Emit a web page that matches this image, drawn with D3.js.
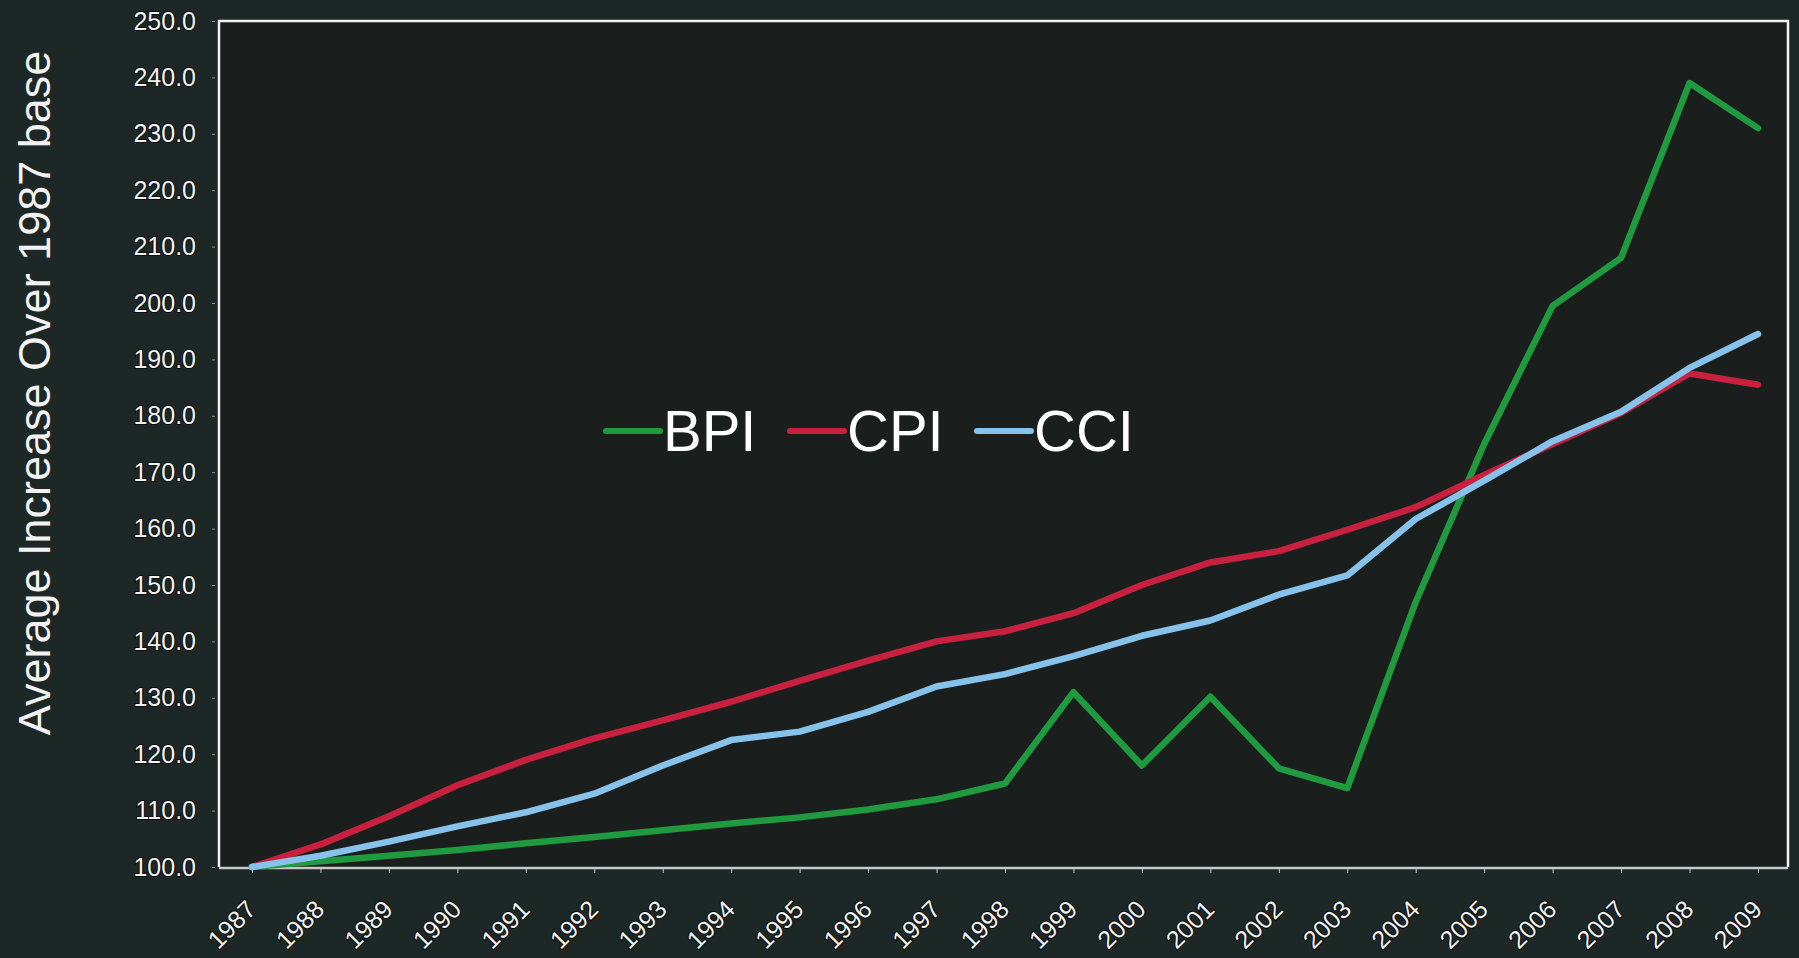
<!DOCTYPE html>
<html>
<head>
<meta charset="utf-8">
<script src="https://cdn.jsdelivr.net/npm/d3@7"></script>
<style>
  html, body { margin: 0; padding: 0; background: #1d2725; }
  svg { display: block; font-family: "Liberation Sans", Arial, sans-serif; }
  .tick-label { fill: #f2f2f2; }
</style>
</head>
<body>
<div id="chart"></div>
<script>
const years = ['1987','1988','1989','1990','1991','1992','1993','1994','1995','1996','1997',
  '1998','1999','2000','2001','2002','2003','2004','2005','2006','2007','2008','2009'];

const bpi = [100.0, 101.0, 102.0, 103.0, 104.2, 105.3, 106.5, 107.7, 108.8, 110.2, 112.0,
  114.8, 131.0, 118.0, 130.2, 117.5, 114.0, 147.0, 175.0, 199.5, 208.0, 239.0, 231.0];
const cpi = [100.0, 104.0, 109.0, 114.5, 119.0, 122.8, 126.0, 129.3, 133.0, 136.6, 140.0,
  141.8, 145.0, 150.0, 154.0, 156.0, 159.8, 163.8, 169.5, 175.0, 180.5, 187.5, 185.5];
const cci = [100.0, 102.0, 104.5, 107.2, 109.7, 113.0, 118.0, 122.5, 124.0, 127.5, 132.0,
  134.2, 137.4, 141.0, 143.7, 148.3, 151.7, 161.7, 168.5, 175.5, 180.7, 188.5, 194.5];

const yTicks = [100, 110, 120, 130, 140, 150, 160, 170, 180, 190, 200, 210, 220, 230, 240, 250];

const series = [
  { name: 'BPI', values: bpi, color: '#1f9a3e' },
  { name: 'CPI', values: cpi, color: '#c7213f' },
  { name: 'CCI', values: cci, color: '#86c2ea' }
];

const W = 1799, H = 958;
const plot = { left: 219, top: 21, right: 1788, bottom: 867 };

const svg = d3.select('#chart').append('svg')
  .attr('width', W).attr('height', H);

svg.append('rect').attr('width', W).attr('height', H).attr('fill', '#1d2725');

// plot background
svg.append('rect')
  .attr('x', plot.left).attr('y', plot.top)
  .attr('width', plot.right - plot.left).attr('height', plot.bottom - plot.top)
  .attr('fill', '#1a1f1e');

const x = d3.scalePoint().domain(years).range([252, 1758]);
const y = d3.scaleLinear().domain([100, 250]).range([plot.bottom, plot.top]);

// frame (white top/left/right)
svg.append('path')
  .attr('d', `M${plot.left},${plot.bottom} V${plot.top} H${plot.right} V${plot.bottom}`)
  .attr('fill', 'none').attr('stroke', '#f4f4f4').attr('stroke-width', 2.5);

// y axis
const yAxis = d3.axisLeft(y).tickValues(yTicks).tickFormat(d3.format('.1f')).tickSize(3).tickPadding(16);
const yg = svg.append('g').attr('transform', `translate(${plot.left - 4},0)`).call(yAxis);
yg.select('.domain').remove();
yg.selectAll('.tick line').attr('stroke', '#8a8f8d');
yg.selectAll('.tick text')
  .attr('class', 'tick-label')
  .attr('font-size', 25)
  .style('paint-order', 'stroke').attr('stroke', '#0b0f0e').attr('stroke-width', 2);

// x axis
const xAxis = d3.axisBottom(x).tickSize(5).tickSizeOuter(0);
const xg = svg.append('g').attr('transform', `translate(0,${plot.bottom + 1})`).call(xAxis);
xg.select('.domain').attr('d', `M${plot.left},0H${plot.right}`).attr('stroke', '#c8c8c8').attr('stroke-width', 2.5);
xg.selectAll('.tick line').attr('stroke', '#c8c8c8');
xg.selectAll('.tick text')
  .attr('class', 'tick-label')
  .attr('font-size', 25)
  .attr('text-anchor', 'end')
  .attr('dy', null)
  .attr('transform', 'translate(5,43) rotate(-45)')
  .attr('y', 0).attr('x', 0)
  .style('paint-order', 'stroke').attr('stroke', '#0b0f0e').attr('stroke-width', 2);

// y title
svg.append('text')
  .attr('transform', 'translate(34,393) rotate(-90)')
  .attr('text-anchor', 'middle')
  .attr('dy', '0.35em')
  .attr('font-size', 45)
  .attr('fill', '#f2f2f2')
  .text('Average Increase Over 1987 base');

// lines
const line = d3.line()
  .x((d, i) => x(years[i]))
  .y(d => y(d));

svg.append('g').selectAll('path')
  .data(series)
  .join('path')
  .attr('d', d => line(d.values))
  .attr('fill', 'none')
  .attr('stroke', d => d.color)
  .attr('stroke-width', 6.5)
  .attr('stroke-linejoin', 'round')
  .attr('stroke-linecap', 'round');

// legend
const legendX = [606, 790, 977];
const lg = svg.append('g').attr('transform', 'translate(0,431)');
const item = lg.selectAll('g').data(series).join('g')
  .attr('transform', (d, i) => `translate(${legendX[i]},0)`);
item.append('line')
  .attr('x1', 0).attr('x2', 54).attr('y1', 0).attr('y2', 0)
  .attr('stroke', d => d.color).attr('stroke-width', 6).attr('stroke-linecap', 'round');
item.append('text')
  .attr('x', 57).attr('dy', '0.35em')
  .attr('font-size', 58)
  .attr('fill', '#ffffff')
  .text(d => d.name);
</script>
</body>
</html>
